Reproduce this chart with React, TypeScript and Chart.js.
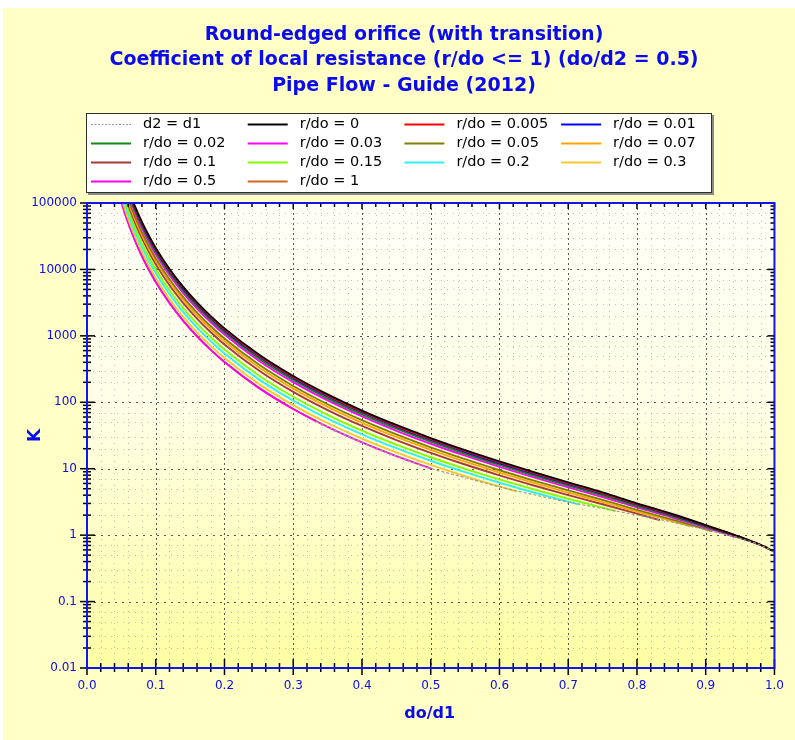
import React, { useEffect, useRef } from "react";
import { Chart, registerables } from "chart.js";

Chart.register(...registerables);

// ---------------- data ----------------
const chartTitle = [
  "Round-edged orifice (with transition)",
  "Coefficient of local resistance (r/do <= 1) (do/d2 = 0.5)",
  "Pipe Flow - Guide (2012)",
];
const xAxisTitle = "do/d1";
const yAxisTitle = "K";

const xTickValues = [0, 0.1, 0.2, 0.3, 0.4, 0.5, 0.6, 0.7, 0.8, 0.9, 1.0];
const xTickLabels = ["0.0", "0.1", "0.2", "0.3", "0.4", "0.5", "0.6", "0.7", "0.8", "0.9", "1.0"];
const yTickValues = [0.01, 0.1, 1, 10, 100, 1000, 10000, 100000];
const yTickLabels = ["0.01", "0.1", "1", "10", "100", "1000", "10000", "100000"];

// shared do/d1 grid
const doD1 = [0.045, 0.05, 0.055, 0.06, 0.07, 0.08, 0.09, 0.1, 0.12, 0.14, 0.16, 0.18, 0.2, 0.25, 0.3, 0.35, 0.4, 0.45, 0.5, 0.55, 0.6, 0.65, 0.7, 0.75, 0.8, 0.85, 0.9, 0.925, 0.95, 0.975, 1.0];

// K values on the grid (up to where each curve stops); each curve's end point is in endX/endK
const K_r0 = [517200, 339200, 231600, 163500, 88180, 51640, 32210, 21110, 10150, 5464, 3191, 1984, 1296, 523.7, 248.3, 131.3, 75.13, 45.59, 28.94, 19.03, 12.86, 8.875, 6.22, 4.405, 3.009, 2.1, 1.42, 1.16, 0.94, 0.75];
const K_r0005 = [496900, 325900, 222500, 157100, 84720, 49620, 30950, 20280, 9756, 5251, 3067, 1907, 1246, 503.5, 238.8, 126.4, 72.34, 43.93, 27.91, 18.37, 12.42, 8.584, 6.026, 4.275, 2.929, 2.053, 1.395, 1.144, 0.93, 0.745];
const K_r001 = [481400, 315700, 215600, 152200, 82080, 48070, 29980, 19650, 9453, 5087, 2972, 1848, 1207, 488.1, 231.6, 122.6, 70.2, 42.65, 27.11, 17.86, 12.09, 8.361, 5.876, 4.175, 2.872, 2.017, 1.376, 1.131, 0.922, 0.741];
const K_r002 = [449400, 294800, 201300, 142100, 76640, 44890, 28000, 18350, 8828, 4752, 2776, 1727, 1128, 456.4, 216.7, 114.8, 65.8, 40.02, 25.48, 16.8, 11.4, 7.9, 5.567, 3.967, 2.748, 1.942, 1.336, 1.103, 0.905];
const K_r003 = [416000, 272900, 186300, 131500, 70940, 41550, 25920, 16990, 8175, 4401, 2572, 1600, 1045, 423.1, 201.1, 106.6, 61.18, 37.26, 23.76, 15.7, 10.67, 7.415, 5.241, 3.748, 2.616, 1.861, 1.293, 1.074];
const K_r005 = [362100, 237500, 162200, 114500, 61750, 36170, 22570, 14790, 7119, 3833, 2241, 1394, 911.6, 369.4, 175.8, 93.37, 53.7, 32.79, 20.96, 13.9, 9.487, 6.624, 4.708, 3.39, 2.397, 1.726, 1.221];
const K_r007 = [329200, 215900, 147400, 104100, 56150, 32890, 20520, 13450, 6475, 3487, 2039, 1269, 829.9, 336.6, 160.3, 85.27, 49.12, 30.04, 19.25, 12.8, 8.759, 6.136, 4.378, 3.167, 2.26, 1.641];
const K_r01 = [292900, 192200, 131200, 92630, 49970, 29280, 18270, 11980, 5766, 3106, 1816, 1131, 739.9, 300.4, 143.3, 76.34, 44.06, 27.01, 17.36, 11.57, 7.95, 5.593, 4.01, 2.918, 2.106];
const K_r015 = [246100, 161500, 110300, 77840, 42000, 24610, 15350, 10070, 4849, 2613, 1529, 952.5, 623.5, 253.6, 121.2, 64.75, 37.49, 23.07, 14.89, 9.975, 6.891, 4.881, 3.527, 2.59];
const K_r02 = [214000, 140400, 95890, 67700, 36530, 21410, 13360, 8760, 4220, 2275, 1332, 830, 543.5, 221.4, 106, 56.77, 32.95, 20.34, 13.17, 8.866, 6.155, 4.383, 3.188];
const K_r03 = [182000, 119400, 81540, 57570, 31070, 18210, 11360, 7453, 3592, 1937, 1134, 707.5, 463.6, 189.2, 90.83, 48.76, 28.4, 17.6, 11.45, 7.745, 5.409];
const K_r05 = [157900, 103600, 70760, 49960, 26960, 15800, 9865, 6471, 3120, 1683, 986.2, 615.3, 403.5, 164.9, 79.36, 42.72, 24.96, 15.52];
const K_r1 = [157900, 103600, 70760, 49960, 26960, 15800, 9865, 6471, 3120, 1683, 986.2, 615.3, 403.5, 164.9, 79.36];

const endX = [1.0, 0.9901, 0.9804, 0.9615, 0.9434, 0.9091, 0.8772, 0.8333, 0.7692, 0.7143, 0.625, 0.5, 0.3333];
const endK = [0.5625, 0.645, 0.71, 0.83, 0.93, 1.14, 1.36, 1.68, 2.308, 2.92, 4.566, 10.14, 51.97];

// dashed limit curve "d2 = d1"
const limitX = [0.3333, 0.35, 0.4, 0.45, 0.5, 0.55, 0.6, 0.65, 0.7, 0.75, 0.8, 0.85, 0.9, 0.925, 0.95, 0.975, 1.0];
const limitK = [51.97, 42.72, 24.96, 15.52, 10.14, 7.348, 5.334, 4.058, 3.146, 2.519, 2.008, 1.584, 1.209, 1.048, 0.894, 0.738, 0.5625];

const seriesLabels = ["d2 = d1", "r/do = 0", "r/do = 0.005", "r/do = 0.01", "r/do = 0.02", "r/do = 0.03", "r/do = 0.05", "r/do = 0.07", "r/do = 0.1", "r/do = 0.15", "r/do = 0.2", "r/do = 0.3", "r/do = 0.5", "r/do = 1"];
const seriesColors = ["#9A9A9A", "#000000", "#FF0000", "#0000FF", "#108A10", "#FF00FF", "#808000", "#FFA500", "#A83A3A", "#80FF00", "#30F0F0", "#F8C830", "#FF00F0", "#D2691E"];
const curveK = [K_r0, K_r0005, K_r001, K_r002, K_r003, K_r005, K_r007, K_r01, K_r015, K_r02, K_r03, K_r05, K_r1];

// ---------------- style ----------------
const FONT = '"DejaVu Sans", Verdana, sans-serif';
const BLUE = "#0A0AF0";

const framePlugin = {
  id: "frame",
  beforeDraw(chart: any) {
    const { ctx, width, height, chartArea: a } = chart;
    ctx.save();
    ctx.fillStyle = "#FFFFC6";
    ctx.fillRect(0, 0, width, height);
    const g = ctx.createLinearGradient(0, a.top, 0, a.bottom);
    g.addColorStop(0, "#FFFFF8");
    g.addColorStop(0.45, "#FFFFE6");
    g.addColorStop(1, "#FFFFA4");
    ctx.fillStyle = g;
    ctx.fillRect(a.left, a.top, a.right - a.left, a.bottom - a.top);
    ctx.restore();
  },
  beforeDatasetsDraw(chart: any) {
    const { ctx, chartArea: a, scales } = chart;
    const xs = scales.x, ys = scales.y;
    ctx.save();
    ctx.lineWidth = 1;
    ctx.strokeStyle = "rgba(120,120,110,0.45)";
    ctx.setLineDash([1, 5]);
    for (let i = 1; i < 50; i++) {
      if (i % 5 === 0) continue;
      const px = Math.round(xs.getPixelForValue(i * 0.02)) + 0.5;
      ctx.beginPath(); ctx.moveTo(px, a.top); ctx.lineTo(px, a.bottom); ctx.stroke();
    }
    for (let e = -2; e < 5; e++) {
      for (const m of [2, 3, 5, 7]) {
        const py = Math.round(ys.getPixelForValue(m * Math.pow(10, e))) + 0.5;
        ctx.beginPath(); ctx.moveTo(a.left, py); ctx.lineTo(a.right, py); ctx.stroke();
      }
    }
    ctx.strokeStyle = "rgba(60,60,60,0.85)";
    ctx.setLineDash([2, 3]);
    for (let i = 1; i < 10; i++) {
      const px = Math.round(xs.getPixelForValue(i * 0.1)) + 0.5;
      ctx.beginPath(); ctx.moveTo(px, a.top); ctx.lineTo(px, a.bottom); ctx.stroke();
    }
    ctx.setLineDash([2, 5]);
    for (let e = -1; e < 5; e++) {
      const py = Math.round(ys.getPixelForValue(Math.pow(10, e))) + 0.5;
      ctx.beginPath(); ctx.moveTo(a.left, py); ctx.lineTo(a.right, py); ctx.stroke();
    }
    ctx.restore();
  },
  afterDatasetsDraw(chart: any) {
    const { ctx, chartArea: a, scales } = chart;
    const xs = scales.x, ys = scales.y;
    ctx.save();
    ctx.setLineDash([]);
    ctx.strokeStyle = "#000000";
    ctx.lineWidth = 1.5;
    const seg = (x1: number, y1: number, x2: number, y2: number) => {
      ctx.beginPath(); ctx.moveTo(x1, y1); ctx.lineTo(x2, y2); ctx.stroke();
    };
    for (let i = 0; i <= 50; i++) {
      const major = i % 5 === 0;
      const px = xs.getPixelForValue(i * 0.02);
      if (major) { seg(px, a.bottom - 9, px, a.bottom + 7); seg(px, a.top, px, a.top + 6); }
      else { seg(px, a.bottom - 5, px, a.bottom + 4); seg(px, a.top, px, a.top + 4); }
    }
    for (let e = -2; e <= 5; e++) {
      for (let m = 1; m <= 9; m++) {
        const v = m * Math.pow(10, e);
        if (v > 100001) continue;
        const py = ys.getPixelForValue(v);
        if (m === 1) { seg(a.left - 7, py, a.left + 8, py); seg(a.right - 7, py, a.right, py); }
        else { seg(a.left - 4, py, a.left + 4, py); seg(a.right - 4, py, a.right, py); }
      }
    }
    ctx.strokeStyle = "#1414F0";
    ctx.lineWidth = 2;
    ctx.strokeRect(a.left, a.top, a.right - a.left, a.bottom - a.top);
    ctx.restore();
  },
  afterDraw(chart: any) {
    const { ctx, chartArea: a } = chart;
    ctx.save();
    ctx.fillStyle = BLUE;
    ctx.textAlign = "center";
    ctx.textBaseline = "middle";
    ctx.font = `bold 19px ${FONT}`;
    chartTitle.forEach((t, i) => ctx.fillText(t, 401, 27 + i * 25.5));
    ctx.font = `bold 16px ${FONT}`;
    ctx.fillText(xAxisTitle, (a.left + a.right) / 2 - 1, 706);
    ctx.save();
    ctx.translate(32.5, (a.top + a.bottom) / 2);
    ctx.rotate(-Math.PI / 2);
    ctx.font = `bold 17px ${FONT}`;
    ctx.fillText(yAxisTitle, 0, 0);
    ctx.restore();
    // legend
    const bx = 83, by = 105, bw = 626, bh = 80;
    ctx.fillStyle = "#8A8A8A";
    ctx.fillRect(bx + 2, by + 2, bw, bh);
    ctx.fillStyle = "#FFFFFF";
    ctx.fillRect(bx, by, bw, bh);
    ctx.strokeStyle = "#303030";
    ctx.lineWidth = 1;
    ctx.strokeRect(bx + 0.5, by + 0.5, bw - 1, bh - 1);
    ctx.font = `14.5px ${FONT}`;
    ctx.textAlign = "left";
    ctx.textBaseline = "middle";
    chart.data.datasets.forEach((ds: any, i: number) => {
      const cx = 88 + (i % 4) * 156.7;
      const cy = 116 + Math.floor(i / 4) * 19;
      ctx.strokeStyle = ds.borderColor;
      ctx.lineWidth = i === 0 ? 1 : 1.8;
      ctx.setLineDash(i === 0 ? [2, 1.5] : []);
      ctx.beginPath(); ctx.moveTo(cx, cy + 0.5); ctx.lineTo(cx + 40, cy + 0.5); ctx.stroke();
      ctx.setLineDash([]);
      ctx.fillStyle = "#000000";
      ctx.fillText(ds.label, cx + 52, cy);
    });
    ctx.restore();
  },
};

function buildDatasets() {
  const sets: any[] = [];
  sets.push({
    label: seriesLabels[0],
    data: limitX.map((x, i) => ({ x, y: limitK[i] })),
    borderColor: seriesColors[0],
    borderWidth: 1.2,
    borderDash: [3, 2],
  });
  curveK.forEach((ks, c) => {
    const pts = ks.map((k, i) => ({ x: doD1[i], y: k }));
    pts.push({ x: endX[c], y: endK[c] });
    sets.push({
      label: seriesLabels[c + 1],
      data: pts,
      borderColor: seriesColors[c + 1],
      borderWidth: 1.9,
    });
  });
  return sets;
}

export default function App() {
  const ref = useRef<HTMLCanvasElement | null>(null);
  useEffect(() => {
    if (!ref.current) return;
    const chart = new Chart(ref.current, {
      type: "line",
      data: { datasets: buildDatasets() },
      options: {
        responsive: false,
        animation: false,
        parsing: false as any,
        normalized: true,
        clip: 0 as any,
        layout: { padding: { left: 0, right: 16, top: 195, bottom: 0 } },
        elements: {
          point: { radius: 0, hoverRadius: 0 },
          line: { cubicInterpolationMode: "monotone", fill: false },
        },
        plugins: { legend: { display: false }, title: { display: false }, tooltip: { enabled: false } },
        scales: {
          x: {
            type: "linear",
            min: 0,
            max: 1,
            grid: { display: false, drawTicks: false },
            border: { display: false },
            afterFit: (s: any) => { s.height = 72; },
            afterBuildTicks: (s: any) => { s.ticks = xTickValues.map((v) => ({ value: v })); },
            ticks: {
              autoSkip: false,
              maxRotation: 0,
              padding: 11,
              color: BLUE,
              font: { family: FONT, size: 12 },
              callback: (_v: any, i: number) => xTickLabels[i],
            },
          },
          y: {
            type: "logarithmic",
            min: 0.01,
            max: 100000,
            grid: { display: false, drawTicks: false },
            border: { display: false },
            afterFit: (s: any) => { s.width = 84; },
            afterBuildTicks: (s: any) => { s.ticks = yTickValues.map((v) => ({ value: v })); },
            ticks: {
              autoSkip: false,
              padding: 10,
              color: BLUE,
              font: { family: FONT, size: 12 },
              callback: (_v: any, i: number) => yTickLabels[i],
            },
          },
        },
      },
      plugins: [framePlugin],
    });
    return () => chart.destroy();
  }, []);
  return (
    <div style={{ position: "absolute", left: 3, top: 8, width: 792, height: 732 }}>
      <canvas ref={ref} width={792} height={732} style={{ display: "block" }} />
    </div>
  );
}
